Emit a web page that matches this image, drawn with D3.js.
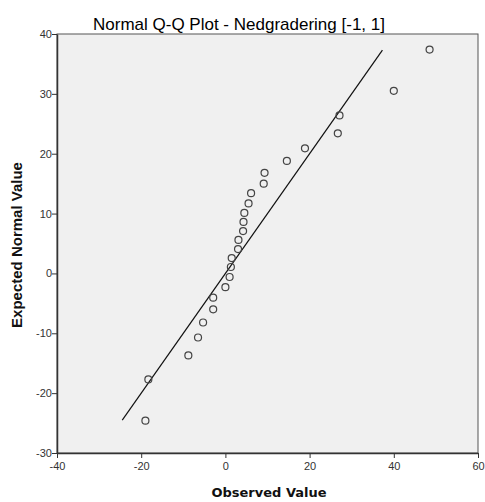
<!DOCTYPE html>
<html>
<head>
<meta charset="utf-8">
<script src="https://cdn.jsdelivr.net/npm/d3@7"></script>
<style>
  body { margin: 0; background: #fff; }
  text { font-family: "Liberation Sans", Arial, sans-serif; }
</style>
</head>
<body>
<div id="chart"></div>
<script>
var width = 485,
    height = 502,
    margin = {top: 34, right: 7, bottom: 49, left: 57};

var observed = [-19.0, -18.3, -8.8, -6.5, -5.3, -2.9, -2.9, 0.0, 1.0, 1.3, 1.5, 3.0, 3.1,
                4.2, 4.3, 4.5, 5.5, 6.1, 9.1, 9.3, 14.6, 18.9, 26.7, 27.1, 40.0, 48.5];
var expected = [-24.6, -17.7, -13.7, -10.7, -8.2, -6.0, -4.05, -2.3, -0.6, 1.07, 2.57, 4.07, 5.6,
                7.08, 8.6, 10.1, 11.7, 13.4, 15.0, 16.8, 18.8, 20.9, 23.4, 26.4, 30.5, 37.4];
var refLine = [-24.5, 37.3];
var xTicks = [-40, -20, 0, 20, 40, 60];
var yTicks = [-30, -20, -10, 0, 10, 20, 30, 40];

var svg = d3.select("#chart").append("svg")
    .attr("width", width)
    .attr("height", height);

var x = d3.scaleLinear().domain([-40, 60]).range([margin.left, width - margin.right]);
var y = d3.scaleLinear().domain([-30, 40]).range([height - margin.bottom, margin.top]);

// plot background + frame
svg.append("rect")
    .attr("x", x(-40)).attr("y", y(40))
    .attr("width", x(60) - x(-40)).attr("height", y(-30) - y(40))
    .attr("fill", "#f0f0f0")
    .attr("stroke", "#555").attr("stroke-width", 1);

// plain hyphen for negatives, like the original
var fmt = function(d) { return String(d); };

var xAxis = svg.append("g")
    .attr("transform", "translate(0," + y(-30) + ")")
    .call(d3.axisBottom(x).tickValues(xTicks).tickFormat(fmt).tickSize(5).tickSizeOuter(0));
var yAxis = svg.append("g")
    .attr("transform", "translate(" + x(-40) + ",0)")
    .call(d3.axisLeft(y).tickValues(yTicks).tickFormat(fmt).tickSize(5).tickSizeOuter(0));

[xAxis, yAxis].forEach(function(g) {
  g.select(".domain").attr("stroke", "#333").attr("stroke-width", 1.5);
  g.selectAll(".tick line").attr("stroke", "#333");
  g.selectAll(".tick text")
    .attr("fill", "#333")
    .style("font-family", "'Liberation Sans', Arial, sans-serif")
    .style("font-size", "11px");
});
xAxis.selectAll(".tick text").attr("dy", "0.71em").attr("y", 9);
yAxis.selectAll(".tick text").attr("x", -5);

// reference line
svg.append("line")
    .attr("x1", x(refLine[0])).attr("y1", y(refLine[0]))
    .attr("x2", x(refLine[1])).attr("y2", y(refLine[1]))
    .attr("stroke", "#111").attr("stroke-width", 1.2);

// points
svg.append("g").selectAll("circle")
  .data(d3.range(observed.length))
  .enter().append("circle")
    .attr("cx", function(i) { return x(observed[i]); })
    .attr("cy", function(i) { return y(expected[i]); })
    .attr("r", 3.5)
    .attr("fill", "none")
    .attr("stroke", "#444")
    .attr("stroke-width", 1.2);

// titles
svg.append("text")
    .attr("x", 239).attr("y", 30)
    .attr("text-anchor", "middle")
    .style("font-size", "17px")
    .attr("fill", "#000")
    .text("Normal Q-Q Plot - Nedgradering [-1, 1]");

svg.append("text")
    .attr("x", 269).attr("y", 497)
    .attr("text-anchor", "middle")
    .style("font-family", "'DejaVu Sans', sans-serif")
    .style("font-size", "13px")
    .style("font-weight", "bold")
    .attr("fill", "#111")
    .text("Observed Value");

svg.append("text")
    .attr("transform", "translate(22,245) rotate(-90)")
    .attr("text-anchor", "middle")
    .style("font-size", "15px")
    .style("font-weight", "bold")
    .attr("fill", "#111")
    .text("Expected Normal Value");
</script>
</body>
</html>
